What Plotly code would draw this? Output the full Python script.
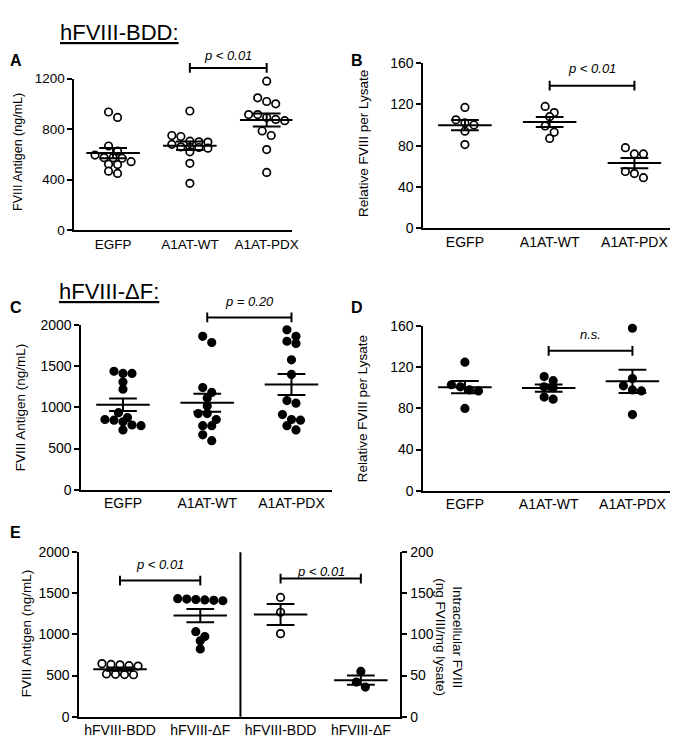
import numpy as np
import plotly.graph_objects as go

W, H = 678, 746
FONT = "Liberation Sans, Arial, sans-serif"

# ---------------- data ----------------
cats_ABCD = ["EGFP", "A1AT-WT", "A1AT-PDX"]
cats_E = ["hFVIII-BDD", "hFVIII-ΔF", "hFVIII-BDD", "hFVIII-ΔF"]

A_egfp = [936, 893, 667, 626, 595, 575, 574, 570, 543, 523, 520, 468, 450]
A_wt = [944, 750, 742, 705, 700, 698, 680, 660, 657, 655, 650, 621, 530, 372]
A_pdx = [1180, 1048, 1019, 1001, 916, 916, 893, 877, 867, 786, 750, 639, 458]

B_egfp = [117, 105, 102, 100, 94, 81]
B_wt = [118, 112, 108, 99, 93, 87]
B_pdx = [78, 72, 72, 55, 53, 49]

C_egfp = [1440, 1413, 1413, 1309, 1222, 936, 877, 853, 845, 825, 786, 778, 726]
C_wt = [1865, 1790, 1242, 1182, 1115, 1016, 925, 925, 853, 778, 778, 667, 595]
C_pdx = [1944, 1865, 1805, 1778, 1579, 1401, 1083, 1052, 913, 853, 845, 778, 726]

D_egfp = [125, 103, 101, 98, 97, 80]
D_wt = [111, 107, 101, 100, 91, 89]
D_pdx = [158, 109, 102, 98, 97, 74]

E_sec_bdd = [645, 635, 630, 620, 615, 520, 515, 512, 510]
E_sec_df = [1435, 1430, 1425, 1420, 1415, 1410, 1034, 974, 923, 824]
E_int_bdd = [145, 127, 101]
E_int_df = [55, 42, 36]

ticks_A = [0, 400, 800, 1200]
ticks_BD = [0, 40, 80, 120, 160]
ticks_CE = [0, 500, 1000, 1500, 2000]
ticks_E_right = [0, 50, 100, 150, 200]

# p-value labels: (panel, cat_from, cat_to, bracket level, label level, text, yaxis-key)
sig = [
    ("A", 1, 2, 1285, 1386, "<i>p &lt; 0.01</i>", "y"),
    ("B", 1, 2, 138, 155, "<i>p &lt; 0.01</i>", "y"),
    ("C", 1, 2, 2095, 2286, "<i>p = 0.20</i>", "y"),
    ("D", 1, 2, 136, 152, "<i>n.s.</i>", "y"),
    ("E", 0, 1, 1655, 1845, "<i>p &lt; 0.01</i>", "y"),
    ("E", 2, 3, 168, 177, "<i>p &lt; 0.01</i>", "yr"),
]

# ---------------- geometry (pixels) ----------------
geo = {
    "A": dict(xa="x", ya="y", x0=67, x1=287, c0=106, sp=77.5, yt=64, yb=219, yr=[0, 1200], fs=13.5),
    "B": dict(xa="x2", ya="y2", x0=419, x1=673, c0=461, sp=85.5, yt=48, yb=217, yr=[0, 160], fs=14),
    "C": dict(xa="x3", ya="y3", x0=74, x1=327, c0=116, sp=85, yt=316, yb=484, yr=[0, 2000], fs=14),
    "D": dict(xa="x4", ya="y4", x0=419, x1=672, c0=461, sp=84.5, yt=317, yb=485, yr=[0, 160], fs=14),
    "E": dict(xa="x5", ya="y5", x0=72, x1=396, c0=113, sp=81, yt=548, yb=716, yr=[0, 2000], fs=14),
}
geo["E"]["yr2"] = [0, 200]

def ppu(g, key="y"):
    r = g["yr"] if key == "y" else g["yr2"]
    return (g["yb"] - g["yt"]) / (r[1] - r[0])

def val_to_paper(g, v, key="y"):
    r = g["yr"] if key == "y" else g["yr2"]
    py = g["yb"] - (v - r[0]) * ppu(g, key)
    return 1 - py / H

def swarm_offsets(vals, pxu, d):
    idx = sorted(range(len(vals)), key=lambda i: -vals[i])
    rows, cur = [], [idx[0]]
    for i in idx[1:]:
        if (vals[cur[0]] - vals[i]) * pxu < 0.75 * d:
            cur.append(i)
        else:
            rows.append(cur)
            cur = [i]
    rows.append(cur)
    off = [0.0] * len(vals)
    for r in rows:
        n = len(r)
        for j, i in enumerate(r):
            off[i] = (j - (n - 1) / 2) * d
    return off

fig = go.Figure()

def add_group(panel, cat, vals, filled, key="y", msize=7.5):
    g = geo[panel]
    xa = g["xa"]
    ya = g["ya"] if key == "y" else "y6"
    pxu = ppu(g, key)
    d = msize + 1.6
    offs = swarm_offsets(vals, pxu, d)
    xs = [cat + o / g["sp"] for o in offs]
    fig.add_trace(go.Scatter(
        x=xs, y=vals, mode="markers", xaxis=xa, yaxis=ya, cliponaxis=False,
        marker=dict(size=msize, symbol="circle",
                    color="black" if filled else "white",
                    line=dict(color="black", width=1.7)),
        hoverinfo="skip"))
    arr = np.array(vals, dtype=float)
    m = arr.mean()
    sem = arr.std(ddof=1) / np.sqrt(len(arr))
    hw = 27 / g["sp"]
    sw = 14 / g["sp"]
    lx = [cat - hw, cat + hw, None, cat - sw, cat + sw, None, cat - sw, cat + sw, None, cat, cat]
    ly = [m, m, None, m + sem, m + sem, None, m - sem, m - sem, None, m - sem, m + sem]
    fig.add_trace(go.Scatter(
        x=lx, y=ly, mode="lines", xaxis=xa, yaxis=ya, cliponaxis=False,
        line=dict(color="black", width=2), hoverinfo="skip"))

for cat, v in enumerate([A_egfp, A_wt, A_pdx]):
    add_group("A", cat, v, False)
for cat, v in enumerate([B_egfp, B_wt, B_pdx]):
    add_group("B", cat, v, False)
for cat, v in enumerate([C_egfp, C_wt, C_pdx]):
    add_group("C", cat, v, True)
for cat, v in enumerate([D_egfp, D_wt, D_pdx]):
    add_group("D", cat, v, True)
add_group("E", 0, E_sec_bdd, False)
add_group("E", 1, E_sec_df, True)
add_group("E", 2, E_int_bdd, False, key="yr")
add_group("E", 3, E_int_df, True, key="yr")

layout = dict(width=W, height=H, margin=dict(l=0, r=0, t=0, b=0),
              paper_bgcolor="white", plot_bgcolor="white", showlegend=False,
              font=dict(family=FONT, color="black"))

def axis_name(a):
    return "xaxis" + a[1:] if a.startswith("x") else "yaxis" + a[1:]

for p, g in geo.items():
    cats = cats_E if p == "E" else cats_ABCD
    xr = [(g["x0"] - g["c0"]) / g["sp"], (g["x1"] - g["c0"]) / g["sp"]]
    layout[axis_name(g["xa"])] = dict(
        domain=[g["x0"] / W, g["x1"] / W], range=xr, anchor=g["ya"],
        tickvals=list(range(len(cats))), ticktext=cats, ticks="",
        showline=True, linewidth=2, linecolor="black", showgrid=False, zeroline=False,
        tickfont=dict(size=g["fs"], family=FONT, color="black"), fixedrange=True)
    tv = ticks_A if p == "A" else (ticks_BD if p in "BD" else ticks_CE)
    layout[axis_name(g["ya"])] = dict(
        domain=[1 - g["yb"] / H, 1 - g["yt"] / H], range=g["yr"], anchor=g["xa"],
        tickvals=tv, ticks="outside", ticklen=5, tickwidth=2, tickcolor="black",
        showline=True, linewidth=2, linecolor="black", showgrid=False, zeroline=False,
        tickfont=dict(size=g["fs"], family=FONT, color="black"), fixedrange=True)

layout["yaxis6"] = dict(
    overlaying="y5", side="right", anchor="x5", range=geo["E"]["yr2"],
    tickvals=ticks_E_right, ticks="outside", ticklen=5, tickwidth=2, tickcolor="black",
    showline=True, linewidth=2, linecolor="black", showgrid=False, zeroline=False,
    tickfont=dict(size=14, family=FONT, color="black"), fixedrange=True)

shapes = []
annotations = []

# divider in panel E
shapes.append(dict(type="line", xref="x5", yref="y5 domain", x0=1.5, x1=1.5, y0=0, y1=1,
                   line=dict(color="black", width=2)))

# significance brackets
for p, c1, c2, lev, tlev, txt, key in sig:
    g = geo[p]
    yb = val_to_paper(g, lev, key)
    yt = val_to_paper(g, tlev, key)
    cap = 5 / H
    for (xa0, xa1, y0, y1) in [(c1, c2, yb, yb), (c1, c1, yb - cap, yb + cap), (c2, c2, yb - cap, yb + cap)]:
        shapes.append(dict(type="line", xref=g["xa"], yref="paper", x0=xa0, x1=xa1, y0=y0, y1=y1,
                           line=dict(color="black", width=2)))
    annotations.append(dict(x=(c1 + c2) / 2, y=yt, xref=g["xa"], yref="paper", text=txt,
                            showarrow=False, font=dict(size=13, family=FONT, color="black"),
                            xanchor="center", yanchor="middle"))

# panel letters
for letter, px, py in [("A", 8, 45), ("B", 352, 45), ("C", 8, 298), ("D", 352, 298), ("E", 8, 528)]:
    annotations.append(dict(x=px / W, y=1 - py / H, xref="paper", yref="paper",
                            text="<b>" + letter + "</b>", showarrow=False,
                            font=dict(size=16, family=FONT, color="black"),
                            xanchor="center", yanchor="middle"))

# section titles
annotations.append(dict(x=112 / W, y=1 - 17 / H, xref="paper", yref="paper",
                        text="<u>hFVIII-BDD:</u>", showarrow=False,
                        font=dict(size=22, family=FONT, color="black"), xanchor="center", yanchor="middle"))
annotations.append(dict(x=102 / W, y=1 - 282 / H, xref="paper", yref="paper",
                        text="<u>hFVIII-ΔF:</u>", showarrow=False,
                        font=dict(size=22, family=FONT, color="black"), xanchor="center", yanchor="middle"))

# y-axis titles
for txt, px, py, fs in [("FVIII Antigen (ng/mL)", 10, 139, 12.5),
                        ("Relative FVIII per Lysate", 358, 130, 13.5),
                        ("FVIII Antigen (ng/mL)", 13, 400, 13.5),
                        ("Relative FVIII per Lysate", 358, 401, 13.5),
                        ("FVIII Antigen (ng/mL)", 19, 631, 13.5)]:
    annotations.append(dict(x=px / W, y=1 - py / H, xref="paper", yref="paper", text=txt,
                            textangle=-90, showarrow=False,
                            font=dict(size=fs, family=FONT, color="black"),
                            xanchor="center", yanchor="middle"))
annotations.append(dict(x=445 / W, y=1 - 635 / H, xref="paper", yref="paper",
                        text="Intracellular FVIII<br>(ng FVIII/mg lysate)", textangle=90,
                        showarrow=False, font=dict(size=13.5, family=FONT, color="black"),
                        xanchor="center", yanchor="middle"))

layout["shapes"] = shapes
layout["annotations"] = annotations
fig.update_layout(**layout)
fig.write_html("out.html")
